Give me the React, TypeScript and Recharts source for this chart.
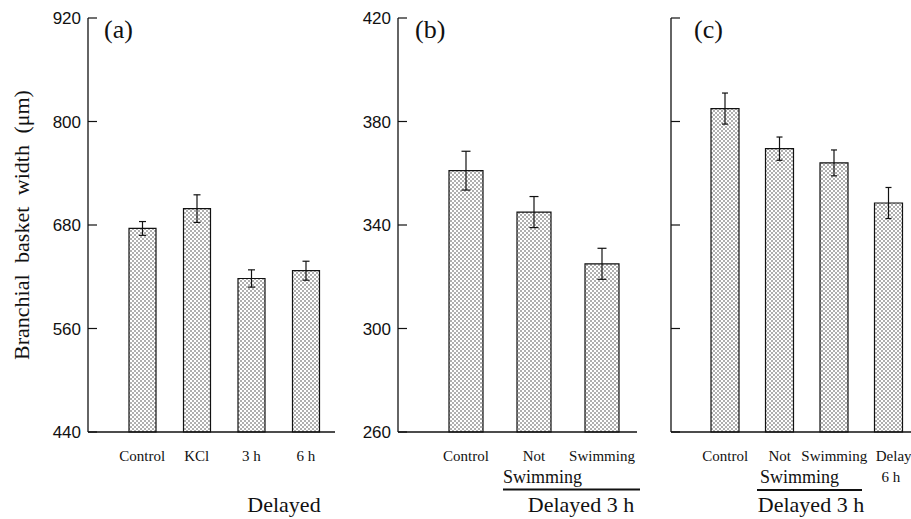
import React from 'react';
import { BarChart, Bar, XAxis, YAxis, ErrorBar } from 'recharts';

// panel (a)
const groupsA = ['Control', 'KCl', '3 h', '6 h'];
const widthA = [676, 699, 618, 627];
const errA = [8, 16, 10, 11];
const ticksA = [440, 560, 680, 800, 920];

// panel (b)
const groupsB = ['Control', 'Not', 'Swimming'];
const widthB = [361, 345, 325];
const errB = [7.5, 6, 6];
const ticksB = [260, 300, 340, 380, 420];

// panel (c)
const groupsC = ['Control', 'Not', 'Swimming', 'Delay'];
const subC = ['', '', '', '6 h'];
const widthC = [385, 369.5, 364, 348.5];
const errC = [6, 4.5, 5, 6];
const ticksC = [260, 300, 340, 380, 420];

const SERIF = '"Liberation Serif", "Times New Roman", serif';
const SANS = '"Liberation Sans", Arial, sans-serif';
const INK = '#111';

const makeRows = (groups: string[], vals: number[], errs: number[], subs?: string[]) =>
  groups.map((g, i) => ({ group: g, sub: subs ? subs[i] : '', value: vals[i], err: errs[i] }));

const dataA = makeRows(groupsA, widthA, errA);
const dataB = makeRows(groupsB, widthB, errB);
const dataC = makeRows(groupsC, widthC, errC, subC);

// inward tick marks, label on the outside
const yTick = (showLabel: boolean) => (props: any) => {
  const { x, y, payload } = props;
  return (
    <g>
      <line x1={x} x2={x + 9} y1={y} y2={y} stroke={INK} strokeWidth={1.2} />
      {showLabel && (
        <text x={x - 7} y={y + 6} textAnchor='end' fontFamily={SANS} fontSize={17} fill={INK}>
          {payload.value}
        </text>
      )}
    </g>
  );
};

const xTick = (subs?: string[]) => (props: any) => {
  const { x, y, payload, index } = props;
  const sub = subs ? subs[index] : '';
  return (
    <g>
      <text
        x={sub ? x - 13 : x}
        y={y + 29}
        textAnchor={sub ? 'start' : 'middle'}
        fontFamily={SERIF}
        fontSize={15}
        fill={INK}
      >
        {payload.value}
      </text>
      {sub && (
        <text x={x + 2} y={y + 50} textAnchor='middle' fontFamily={SERIF} fontSize={15} fill={INK}>
          {sub}
        </text>
      )}
    </g>
  );
};

const Dots = ({ id }: { id: string }) => (
  <defs>
    <pattern id={id} width={4} height={4} patternUnits='userSpaceOnUse'>
      <rect width={4} height={4} fill='#fff' />
      <circle cx={1} cy={1} r={0.7} fill='#222' />
      <circle cx={3} cy={3} r={0.7} fill='#222' />
    </pattern>
  </defs>
);

interface PanelProps {
  data: any[];
  ticks: number[];
  width: number;
  marginRight: number;
  padLeft: number;
  padRight: number;
  barSize: number;
  capWidth: number;
  showLabels: boolean;
  id: string;
  subs?: string[];
}

const Panel: React.FC<PanelProps> = ({
  data, ticks, width, marginRight, padLeft, padRight, barSize, capWidth, showLabels, id, subs,
}) => (
  <BarChart
    width={width}
    height={519}
    data={data}
    barSize={barSize}
    margin={{ top: 18, right: marginRight, left: 0, bottom: 27 }}
  >
    <Dots id={id} />
    <XAxis
      dataKey='group'
      height={60}
      interval={0}
      padding={{ left: padLeft, right: padRight }}
      tickLine={false}
      tickSize={0}
      tickMargin={0}
      axisLine={{ stroke: INK, strokeWidth: 1.3 }}
      tick={xTick(subs)}
    />
    <YAxis
      type='number'
      width={88}
      domain={[ticks[0], ticks[ticks.length - 1]]}
      ticks={ticks}
      interval={0}
      tickLine={false}
      tickSize={0}
      tickMargin={0}
      axisLine={{ stroke: INK, strokeWidth: 1.3 }}
      tick={yTick(showLabels)}
    />
    <Bar dataKey='value' fill={`url(#${id})`} stroke={INK} strokeWidth={1.2} isAnimationActive={false}>
      <ErrorBar dataKey='err' width={capWidth} stroke={INK} strokeWidth={1.2} />
    </Bar>
  </BarChart>
);

const App: React.FC = () => {
  return (
    <div
      style={{
        position: 'absolute',
        left: 0,
        top: 0,
        width: 911,
        height: 519,
        overflow: 'hidden',
        background: '#fff',
      }}
    >
      <div style={{ position: 'absolute', left: 0, top: 0 }}>
        <Panel data={dataA} ticks={ticksA} width={340} marginRight={5} padLeft={27} padRight={2}
          barSize={27} capWidth={3.5} showLabels id='dotsA' />
      </div>
      <div style={{ position: 'absolute', left: 310, top: 0 }}>
        <Panel data={dataB} ticks={ticksB} width={330} marginRight={3} padLeft={34} padRight={1}
          barSize={34} capWidth={4.5} showLabels id='dotsB' />
      </div>
      <div style={{ position: 'absolute', left: 583, top: 0 }}>
        <Panel data={dataC} ticks={ticksC} width={333} marginRight={0} padLeft={27} padRight={0}
          barSize={28} capWidth={3} showLabels={false} id='dotsC' subs={subC} />
      </div>

      <svg
        width={911}
        height={519}
        style={{ position: 'absolute', left: 0, top: 0, pointerEvents: 'none' }}
      >
        <text
          transform='translate(29,225) rotate(-90)'
          textAnchor='middle'
          fontFamily={SERIF}
          fontSize={22}
          wordSpacing={6}
          fill={INK}
        >
          Branchial basket width (μm)
        </text>

        <text x={104} y={38} fontFamily={SERIF} fontSize={26} fill={INK}>(a)</text>
        <text x={415} y={38} fontFamily={SERIF} fontSize={26} fill={INK}>(b)</text>
        <text x={694} y={38} fontFamily={SERIF} fontSize={26} fill={INK}>(c)</text>

        <text x={284} y={512} textAnchor='middle' fontFamily={SERIF} fontSize={22} fill={INK}>Delayed</text>

        <text x={503} y={483} fontFamily={SERIF} fontSize={18} fill={INK}>Swimming</text>
        <line x1={503} x2={640} y1={489.5} y2={489.5} stroke={INK} strokeWidth={2} />
        <text x={581} y={512} textAnchor='middle' fontFamily={SERIF} fontSize={22} fill={INK}>Delayed 3 h</text>

        <text x={760} y={483} fontFamily={SERIF} fontSize={18} fill={INK}>Swimming</text>
        <line x1={757} x2={862} y1={490} y2={490} stroke={INK} strokeWidth={2} />
        <text x={811} y={512} textAnchor='middle' fontFamily={SERIF} fontSize={22} fill={INK}>Delayed 3 h</text>
      </svg>
    </div>
  );
};

export default App;
